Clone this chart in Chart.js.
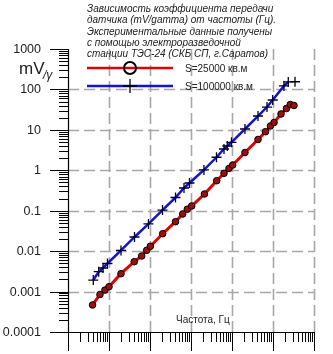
<!DOCTYPE html>
<html>
<head>
<meta charset="utf-8">
<script src="https://cdn.jsdelivr.net/npm/chart.js@4.4.0/dist/chart.umd.min.js"></script>
<style>
  html, body { margin: 0; padding: 0; background: #fff; }
  canvas { display: block; }
</style>
</head>
<body>
<canvas id="chart" width="333" height="354"></canvas>
<script>
// Frequency (Hz) and transfer coefficient (mV/gamma)
const freqRed = [0.00397, 0.00602, 0.00798, 0.01, 0.0196, 0.0412, 0.0628, 0.0832, 0.102, 0.204,
    0.419, 0.628, 0.813, 1.04, 2.13, 4.24, 6.38, 8.45, 10.4, 20.7, 43.1, 65.6, 86.9, 106, 157, 213, 264, 325];
const valRed = [0.000466, 0.000847, 0.00109, 0.00132, 0.00277, 0.00548, 0.00759, 0.0105, 0.0132, 0.027,
    0.0535, 0.083, 0.109, 0.131, 0.259, 0.553, 0.843, 1.11, 1.35, 2.75, 5.78, 9.01, 12.5, 15.2, 24.7, 33.7, 42.4, 40.1];

const freqBlue = [0.00414, 0.00561, 0.00715, 0.00918, 0.0196, 0.0419, 0.0918, 0.202, 0.419, 0.675, 0.918,
    2.07, 4.19, 6.38, 7.68, 9.72, 20.7, 43.1, 71.4, 98.4, 185, 236];
const valBlue = [0.00193, 0.0031, 0.00383, 0.00495, 0.0104, 0.0224, 0.047, 0.104, 0.212, 0.365, 0.485,
    1.02, 2.1, 3.36, 3.99, 4.92, 10.5, 22.0, 36.7, 54.8, 122, 153];

// stray "+" marker next to the end of the blue curve
const freqExtra = [344];
const valExtra = [155];

const seriesNames = ['S=25000 кв.м', 'S=100000 кв.м'];
const yTickValues = [0.0001, 0.001, 0.01, 0.1, 1, 10, 100, 1000];
const yTickLabels = ['0.0001', '0.001', '0.01', '0.1', '1', '10', '100', '1000'];
const titleLines = [
    'Зависимость коэффициента передачи',
    'датчика (mV/gamma) от частоты (Гц).',
    'Экспериментальные данные получены',
    'с помощью электроразведочной',
    'станции ТЭС-24 (СКБ СП, г.Саратов)'
];
const xTitle = 'Частота, Гц';

const X_MIN = 0.001, X_MAX = 1000, Y_MIN = 0.0001, Y_MAX = 1000;
const FONT = "'Liberation Sans', Arial, sans-serif";

function toPoints(xs, ys) {
    return xs.map((x, i) => ({ x: x, y: ys[i] }));
}

// grid, axis lines, tick marks and labels, placed through the chart's own scales
const axesPlugin = {
    id: 'axesDecor',
    beforeDatasetsDraw(chart) {
        const ctx = chart.ctx;
        const xs = chart.scales.x, ys = chart.scales.y;
        const a = chart.chartArea;
        const xe0 = Math.round(Math.log10(X_MIN)), xe1 = Math.round(Math.log10(X_MAX));
        const ye0 = Math.round(Math.log10(Y_MIN)), ye1 = Math.round(Math.log10(Y_MAX));
        ctx.save();

        // dashed decade grid
        ctx.strokeStyle = '#a8a8a8';
        ctx.lineWidth = 1.6;
        ctx.setLineDash([11, 5]);
        for (let e = xe0 + 1; e <= xe1; e++) {
            const px = Math.round(xs.getPixelForValue(Math.pow(10, e))) + 0.5;
            ctx.beginPath(); ctx.moveTo(px, a.top); ctx.lineTo(px, a.bottom); ctx.stroke();
        }
        for (let e = ye0 + 1; e < ye1; e++) {
            const py = Math.round(ys.getPixelForValue(Math.pow(10, e))) + 0.5;
            ctx.beginPath(); ctx.moveTo(a.left, py); ctx.lineTo(a.right, py); ctx.stroke();
        }
        ctx.setLineDash([]);

        ctx.strokeStyle = '#000';
        ctx.lineWidth = 1;
        // y axis ticks (outside, to the left)
        for (let e = ye0; e <= ye1; e++) {
            for (let m = 1; m <= 9; m++) {
                if (e === ye1 && m > 1) break;
                const py = Math.round(ys.getPixelForValue(m * Math.pow(10, e))) + 0.5;
                const len = m === 1 ? 18 : 9;
                ctx.beginPath(); ctx.moveTo(a.left - len, py); ctx.lineTo(a.left, py); ctx.stroke();
            }
        }
        // x axis ticks (outside, below)
        for (let e = xe0; e <= xe1; e++) {
            for (let m = 1; m <= 9; m++) {
                if (e === xe1 && m > 1) break;
                const px = Math.round(xs.getPixelForValue(m * Math.pow(10, e))) + 0.5;
                const len = m === 1 ? 19 : 10;
                ctx.beginPath(); ctx.moveTo(px, a.bottom); ctx.lineTo(px, a.bottom + len); ctx.stroke();
            }
        }
        // axis lines
        ctx.lineWidth = 1.2;
        ctx.beginPath();
        ctx.moveTo(a.left + 0.5, a.top);
        ctx.lineTo(a.left + 0.5, a.bottom + 0.5);
        ctx.lineTo(a.right, a.bottom + 0.5);
        ctx.stroke();

        // y tick labels
        ctx.fillStyle = '#222';
        ctx.font = '12.5px ' + FONT;
        ctx.textAlign = 'right';
        ctx.textBaseline = 'middle';
        yTickValues.forEach((v, i) => {
            ctx.fillText(yTickLabels[i], 41, ys.getPixelForValue(v) + 0.5);
        });
        ctx.restore();
    },
    afterDraw(chart) {
        const ctx = chart.ctx;
        ctx.save();
        ctx.fillStyle = '#222';
        ctx.textBaseline = 'middle';

        // title block
        ctx.font = 'italic 10px ' + FONT;
        ctx.textAlign = 'left';
        titleLines.forEach((t, i) => ctx.fillText(t, 87, 9 + i * 11.4));

        // y axis unit
        ctx.font = '17px ' + FONT;
        ctx.fillText('mV', 19, 69);
        ctx.font = 'italic 12px ' + FONT;
        ctx.fillText('/γ', 43, 76);

        // x axis title, inside the plot
        ctx.font = '10px ' + FONT;
        ctx.fillText(xTitle, 176, 320);

        // legend
        const ds = chart.data.datasets;
        const rows = [68, 86];
        [0, 1].forEach(i => {
            const y = rows[i];
            ctx.strokeStyle = ds[i].borderColor;
            ctx.lineWidth = 2.5;
            ctx.beginPath(); ctx.moveTo(87, y); ctx.lineTo(173, y); ctx.stroke();
            ctx.strokeStyle = '#000';
            ctx.lineWidth = i === 0 ? 2 : 1.3;
            ctx.beginPath();
            if (i === 0) {
                ctx.arc(130, y, 6, 0, Math.PI * 2);
            } else {
                ctx.moveTo(123, y); ctx.lineTo(137, y);
                ctx.moveTo(130, y - 7); ctx.lineTo(130, y + 7);
            }
            ctx.stroke();
            ctx.fillStyle = '#222';
            ctx.font = '10px ' + FONT;
            ctx.fillText(ds[i].label, 185, y + 1);
        });
        ctx.restore();
    }
};

new Chart(document.getElementById('chart'), {
    type: 'scatter',
    data: {
        datasets: [{
            label: seriesNames[0],
            data: toPoints(freqRed, valRed),
            showLine: true,
            borderColor: '#e00000',
            borderWidth: 3,
            pointStyle: 'circle',
            pointRadius: 3.3,
            pointBackgroundColor: '#9a1010',
            pointBorderColor: '#000',
            pointBorderWidth: 1,
            tension: 0
        }, {
            label: seriesNames[1],
            data: toPoints(freqBlue, valBlue),
            showLine: true,
            borderColor: '#1414c8',
            borderWidth: 2.5,
            pointStyle: 'cross',
            pointRadius: 5,
            pointBorderColor: '#000028',
            pointBorderWidth: 1.3,
            tension: 0
        }, {
            label: 'extra',
            data: toPoints(freqExtra, valExtra),
            showLine: false,
            pointStyle: 'cross',
            pointRadius: 5,
            pointBorderColor: '#000',
            pointBorderWidth: 1.3
        }]
    },
    options: {
        responsive: false,
        animation: false,
        devicePixelRatio: 1,
        layout: { padding: { left: 0, top: 49, right: 19, bottom: 0 } },
        plugins: {
            legend: { display: false },
            tooltip: { enabled: false }
        },
        scales: {
            x: {
                type: 'logarithmic',
                min: X_MIN,
                max: X_MAX,
                grid: { display: false },
                border: { display: false },
                ticks: { display: false },
                afterFit: function(scale) { scale.height = 22; }
            },
            y: {
                type: 'logarithmic',
                min: Y_MIN,
                max: Y_MAX,
                grid: { display: false },
                border: { display: false },
                ticks: { display: false },
                afterFit: function(scale) { scale.width = 68; }
            }
        }
    },
    plugins: [axesPlugin]
});
</script>
</body>
</html>
